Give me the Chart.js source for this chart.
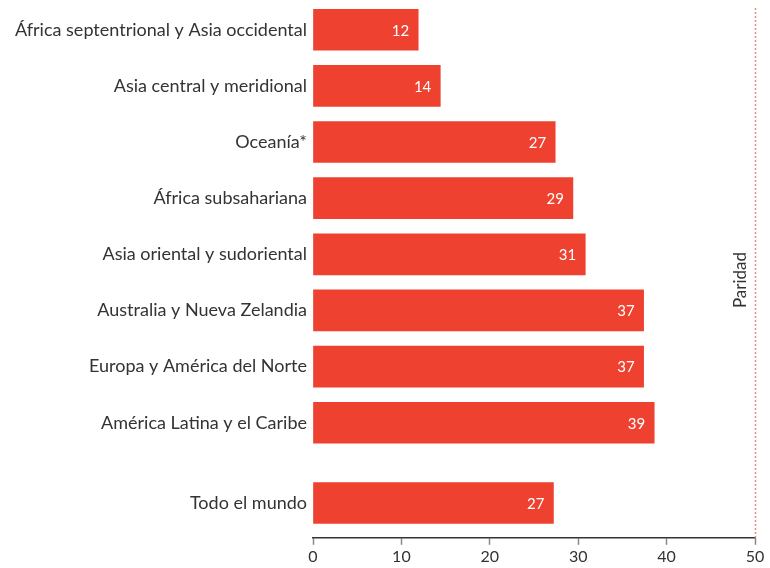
<!DOCTYPE html>
<html>
<head>
<meta charset="utf-8">
<script src="https://cdn.jsdelivr.net/npm/chart.js@4/dist/chart.umd.min.js"></script>
<style>
  html, body { margin: 0; padding: 0; background: #fff; }
  #wrap { width: 770px; height: 568px; }
</style>
</head>
<body>
<div id="wrap"><canvas id="chart" width="770" height="568"></canvas></div>
<script>
// Regions and their share (%)
const regions = [
  "África septentrional y Asia occidental",
  "Asia central y meridional",
  "Oceanía*",
  "África subsahariana",
  "Asia oriental y sudoriental",
  "Australia y Nueva Zelandia",
  "Europa y América del Norte",
  "América Latina y el Caribe",
  "Todo el mundo",
];
const shares = [11.9, 14.4, 27.4, 29.4, 30.8, 37.4, 37.4, 38.6, 27.2];
const xTicks = [0, 10, 20, 30, 40, 50];
const parity = 50;
const parityLabel = "Paridad";

const RED = "#ee4130";
const TEXT = "#333333";
const FONT = "Lato, 'Open Sans', sans-serif";

// the world total sits a bit apart from the regions
const rowPos = regions.map((r, i) => (i === regions.length - 1 ? i + 0.43 : i));
const points = shares.map((v, i) => ({ x: v, y: rowPos[i] }));

const valueLabels = {
  id: "valueLabels",
  afterDatasetsDraw(chart) {
    const c = chart.ctx;
    const meta = chart.getDatasetMeta(0);
    c.save();
    c.fillStyle = "#fff";
    c.font = "15px " + FONT;
    c.textAlign = "right";
    c.textBaseline = "middle";
    meta.data.forEach((bar, i) => {
      c.fillText(String(Math.round(shares[i])), bar.x - 9, bar.y + 1);
    });
    c.restore();
  },
};

const parityLine = {
  id: "parityLine",
  beforeDatasetsDraw(chart) {
    const c = chart.ctx;
    const x = Math.round(chart.scales.x.getPixelForValue(parity)) + 0.5;
    const area = chart.chartArea;
    c.save();
    c.strokeStyle = "#f2877c";
    c.lineWidth = 1.5;
    c.setLineDash([2, 2]);
    c.beginPath();
    c.moveTo(x, 8);
    c.lineTo(x, area.bottom);
    c.stroke();
    c.setLineDash([]);
    c.translate(x - 15, 280);
    c.rotate(-Math.PI / 2);
    c.fillStyle = TEXT;
    c.font = "17px " + FONT;
    c.textAlign = "center";
    c.textBaseline = "middle";
    c.fillText(parityLabel, 0, 0);
    c.restore();
  },
};

new Chart(document.getElementById("chart"), {
  type: "bar",
  data: {
    datasets: [
      {
        data: points,
        backgroundColor: RED,
        barThickness: 41,
      },
    ],
  },
  plugins: [parityLine, valueLabels],
  options: {
    indexAxis: "y",
    responsive: false,
    animation: false,
    layout: { padding: { top: 0, right: 15, bottom: 0, left: 0 } },
    plugins: {
      legend: { display: false },
      tooltip: { enabled: false },
    },
    scales: {
      x: {
        type: "linear",
        min: 0,
        max: 50,
        afterBuildTicks: (s) => { s.ticks = xTicks.map((v) => ({ value: v })); },
        grid: { drawOnChartArea: false, tickLength: 7, tickColor: "#888", tickWidth: 1.5 },
        border: { color: "#333", width: 1.5 },
        ticks: { color: TEXT, font: { family: FONT, size: 16 }, padding: 2 },
      },
      y: {
        type: "linear",
        reverse: true,
        offset: false,
        min: -0.53,
        max: 9.05,
        afterBuildTicks: (s) => { s.ticks = rowPos.map((v) => ({ value: v })); },
        afterFit: (s) => {
          s.width = 313;
          s.paddingTop = 0;
          s.paddingBottom = 0;
        },
        grid: { display: false, drawTicks: false },
        border: { display: false },
        ticks: {
          color: TEXT,
          font: { family: FONT, size: 18 },
          padding: 6,
          autoSkip: false,
          callback: (v, i) => regions[i],
        },
      },
    },
  },
});
</script>
</body>
</html>
